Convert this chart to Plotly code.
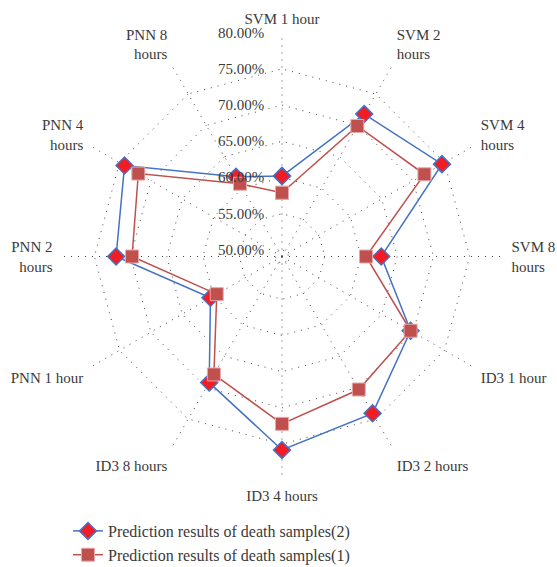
import plotly.graph_objects as go

categories = ["SVM 1 hour", "SVM 2<br>hours", "SVM 4<br>hours", "SVM 8<br>hours",
              "ID3 1 hour", "ID3 2 hours", "ID3 4 hours", "ID3 8 hours",
              "PNN 1 hour", "PNN 2<br>hours", "PNN 4<br>hours", "PNN 8<br>hours"]

series2_name = "Prediction results of death samples(2)"
series2 = [60.2, 71.8, 74.6, 62.8, 69.6, 74.1, 75.8, 69.2, 60.5, 72.0, 74.2, 61.8]

series1_name = "Prediction results of death samples(1)"
series1 = [57.9, 69.9, 71.8, 60.7, 69.6, 70.3, 72.2, 67.9, 59.5, 69.8, 72.0, 60.7]

tick_vals = [50, 55, 60, 65, 70, 75, 80]
tick_text = ["50.00%", "55.00%", "60.00%", "65.00%", "70.00%", "75.00%", "80.00%"]

FONT = "Liberation Serif"
TXT = "#3a3a3a"

fig = go.Figure()
fig.add_trace(go.Scatterpolar(
    r=series2 + [series2[0]], theta=categories + [categories[0]],
    mode="lines+markers", name=series2_name,
    line=dict(color="#4472C4", width=1.5),
    marker=dict(symbol="diamond", size=13, color="#F21C24",
                line=dict(color="#4472C4", width=1.5)),
))
fig.add_trace(go.Scatterpolar(
    r=series1 + [series1[0]], theta=categories + [categories[0]],
    mode="lines+markers", name=series1_name,
    line=dict(color="#C0504D", width=1.5),
    marker=dict(symbol="square", size=13, color="#C0504D",
                line=dict(color="#E8A9A7", width=1)),
))

cx, cy, R = 282, 256.5, 224
W, H = 557, 567
fig.update_layout(
    width=W, height=H,
    margin=dict(l=0, r=0, t=0, b=0, autoexpand=False),
    paper_bgcolor="white",
    font=dict(family=FONT, size=16, color=TXT),
    polar=dict(
        domain=dict(x=[(cx - R) / W, (cx + R) / W], y=[1 - (cy + R) / H, 1 - (cy - R) / H]),
        bgcolor="white",
        gridshape="linear",
        radialaxis=dict(
            range=[49.1, 80.02], tickvals=tick_vals, ticktext=tick_text,
            angle=90, tickangle=90, side="counterclockwise",
            showline=False, ticks="outside", ticklen=12, tickcolor="rgba(0,0,0,0)",
            gridcolor="#444", gridwidth=1, griddash="1px,6px",
            tickfont=dict(family=FONT, size=15, color=TXT),
        ),
        angularaxis=dict(
            direction="clockwise", rotation=90,
            showline=False, ticks="outside", ticklen=2, tickcolor="rgba(0,0,0,0)",
            gridcolor="#444", gridwidth=1, griddash="1px,6px",
            tickfont=dict(family=FONT, size=15, color=TXT),
        ),
    ),
    showlegend=True,
    legend=dict(
        x=68 / W, y=1 - 514 / H, xanchor="left", yanchor="top",
        font=dict(family=FONT, size=16, color=TXT),
        bgcolor="rgba(0,0,0,0)", tracegroupgap=0,
    ),
)

fig.write_html("out.html", config={"displayModeBar": False},
               post_script="document.body.style.margin='0px';")
